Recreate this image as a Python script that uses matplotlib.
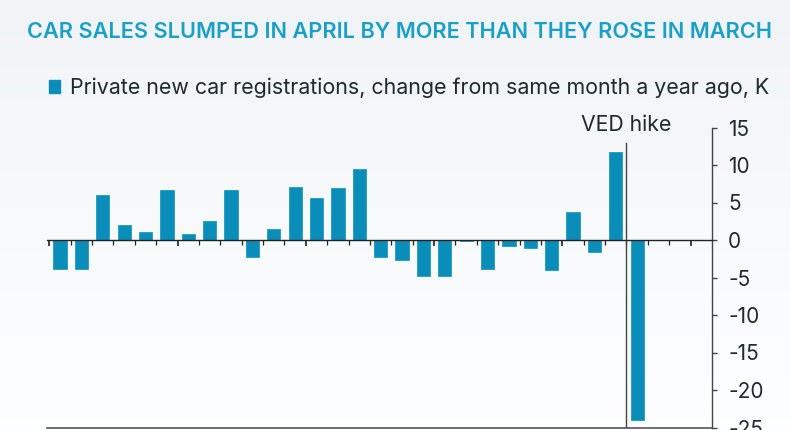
import matplotlib
matplotlib.use("Agg")
import matplotlib.pyplot as plt
import matplotlib.patches as mpatches
import numpy as np

matplotlib.rcParams['font.family'] = ['Inter', 'DejaVu Sans']
matplotlib.rcParams['axes.unicode_minus'] = False

# Jan 2015 .. Apr 2017, change vs same month a year ago (thousands)
months = ["Jan-15", "Feb-15", "Mar-15", "Apr-15", "May-15", "Jun-15", "Jul-15", "Aug-15",
          "Sep-15", "Oct-15", "Nov-15", "Dec-15", "Jan-16", "Feb-16", "Mar-16", "Apr-16",
          "May-16", "Jun-16", "Jul-16", "Aug-16", "Sep-16", "Oct-16", "Nov-16", "Dec-16",
          "Jan-17", "Feb-17", "Mar-17", "Apr-17"]
values = [-3.8, -3.8, 6.0, 2.0, 1.1, 6.7, 0.8, 2.6, 6.7, -2.3, 1.5, 7.1, 5.6, 7.0,
          9.5, -2.2, -2.7, -4.8, -4.8, -0.15, -3.9, -0.85, -1.0, -4.0, 3.8, -1.6, 11.7, -24.0]
n_months = 31  # axis runs to Jul-17
yticks = [15, 10, 5, 0, -5, -10, -15, -20, -25]

bar_color = '#0b8db9'
title_color = '#1a9fca'
text_color = '#1e2a30'

fig = plt.figure(figsize=(7.9, 4.3), dpi=100)

# soft background gradient
bg = fig.add_axes([0, 0, 1, 1], zorder=-10)
grad = np.linspace(0, 1, 256).reshape(-1, 1)
top = np.array([0.945, 0.957, 0.969])
bot = np.array([0.995, 0.997, 1.0])
img = top + (bot - top) * grad[:, :, None] * np.ones((1, 2, 1))
bg.imshow(img, aspect='auto', extent=[0, 1, 0, 1])
bg.axis('off')

ax = fig.add_axes([47 / 790, 2.5 / 430, 665 / 790, 300 / 430])
ax.patch.set_alpha(0)

x = np.arange(len(values))
ax.bar(x, values, width=0.62, color=bar_color, edgecolor='#1a9cc8', linewidth=0.6, zorder=3)

ax.set_xlim(-0.61, n_months - 0.5)
ax.set_ylim(-25, 15)

# x axis sits on zero, monthly ticks, longer every six months
ax.spines['bottom'].set_position(('data', 0))
ax.spines['bottom'].set_color('#222222')
ax.spines['bottom'].set_linewidth(1.0)
ax.spines['bottom'].set_zorder(4)
ax.set_xticks(np.arange(-0.5, n_months - 0.5, 6))
ax.set_xticks(np.arange(-0.5, n_months - 0.5, 1), minor=True)
ax.tick_params(axis='x', which='major', direction='out', length=4.5, width=1.2, color='#222222', labelbottom=False)
ax.tick_params(axis='x', which='minor', direction='out', length=3.5, width=0.9, color='#222222')

ax.spines['left'].set_visible(False)
ax.spines['top'].set_visible(False)
ax.spines['right'].set_color('#444444')
ax.spines['right'].set_linewidth(1.0)
ax.yaxis.tick_right()
ax.set_yticks(yticks)
ax.set_yticklabels([str(v) for v in yticks])
ax.tick_params(axis='y', direction='out', length=3.6, width=1.0, color='#444444',
               labelsize=15, labelcolor=text_color, pad=8)
for lab in ax.get_yticklabels():
    lab.set_horizontalalignment('left')

# bottom frame line
ax.axhline(-25, color='#555555', linewidth=1.2, zorder=2, clip_on=False)

# VED hike marker
ax.plot([26.5, 26.5], [-25, 13.0], color='#444444', linewidth=1.0, zorder=4)
ax.text(26.5, 14.0, "VED hike", ha='center', va='bottom', fontsize=15.3, color=text_color)

fig.text(27 / 790, 1 - 32.5 / 430, "CAR SALES SLUMPED IN APRIL BY MORE THAN THEY ROSE IN MARCH",
         fontsize=15.6, fontweight='semibold', color=title_color, va='center', ha='left')

handle = mpatches.Patch(color=bar_color)
fig.legend([handle], ["Private new car registrations, change from same month a year ago, K"],
           loc='center left', bbox_to_anchor=(49 / 790, 1 - 88 / 430), frameon=False,
           borderpad=0, borderaxespad=0,
           fontsize=15.4, handlelength=0.52, handleheight=0.52, handletextpad=0.45,
           labelcolor=text_color)

fig.savefig("out.png", dpi=100)
